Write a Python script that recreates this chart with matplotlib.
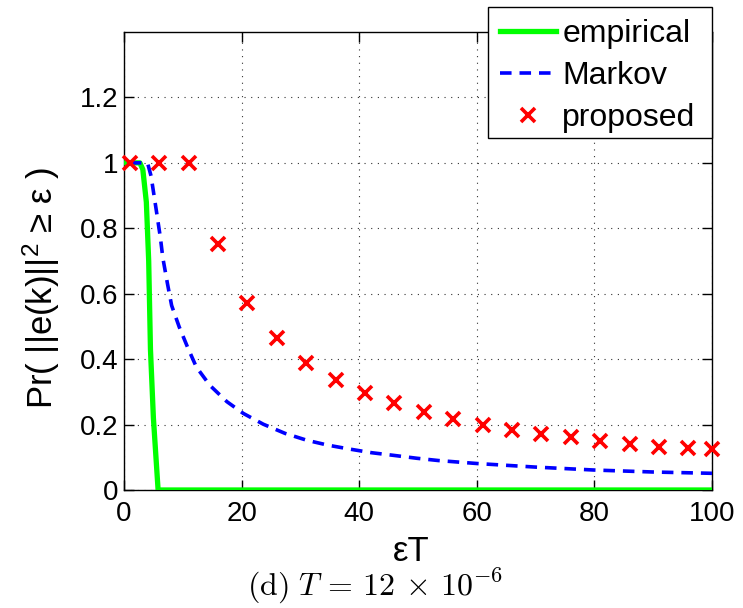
import matplotlib
matplotlib.use("Agg")
import matplotlib.pyplot as plt
from matplotlib.patches import Rectangle

plt.rcParams["font.family"] = ["Liberation Sans", "DejaVu Sans"]
plt.rcParams["mathtext.fontset"] = "custom"
plt.rcParams["mathtext.rm"] = "Liberation Sans"
plt.rcParams["mathtext.it"] = "Liberation Sans:italic"

# empirical tail probability
emp_x = [0, 2.7, 3.2, 3.8, 4.2, 4.5, 5.0, 5.8, 100]
emp_y = [1.0, 1.0, 0.98, 0.88, 0.70, 0.43, 0.22, 0.0, 0.0]

# Markov bound
markov_x = [1, 4.0, 4.6, 5.5, 6.2, 6.6, 7.4, 8.1, 9.4, 10.8, 12.3, 14.6, 17.5,
            20.3, 23.7, 27.4, 31.1, 34.7, 38.4, 42.1, 45.8, 49.8, 53.5, 60,
            70, 80, 90, 100]
markov_y = [1.0, 1.0, 0.96, 0.854, 0.77, 0.71, 0.63, 0.564, 0.498, 0.437,
            0.376, 0.32, 0.27, 0.234, 0.201, 0.173, 0.152, 0.137, 0.125,
            0.114, 0.106, 0.097, 0.090, 0.081, 0.070, 0.061, 0.055, 0.051]

# proposed bound
prop_x = [1, 6, 11, 16, 21, 26, 31, 36, 41, 46, 51, 56, 61, 66, 71, 76, 81,
          86, 91, 96, 100]
prop_y = [1.0, 1.0, 1.0, 0.752, 0.572, 0.466, 0.388, 0.337, 0.296, 0.265,
          0.239, 0.217, 0.200, 0.183, 0.171, 0.161, 0.150, 0.141, 0.131,
          0.127, 0.124]

xticks = [0, 20, 40, 60, 80, 100]
yticks = [0, 0.2, 0.4, 0.6, 0.8, 1.0, 1.2]
ytick_labels = ["0", "0.2", "0.4", "0.6", "0.8", "1", "1.2"]

W, H = 743, 608
fig = plt.figure(figsize=(W / 100, H / 100), dpi=100)
ax = fig.add_axes([124 / W, 1 - 490 / H, 588 / W, 458 / H])

ax.plot(emp_x, emp_y, color="#00FF00", lw=3.8, label="empirical",
        solid_joinstyle="round", zorder=3)
ax.plot(markov_x, markov_y, color="#0000FF", lw=2.6, ls=(0, (3.2, 2.2)),
        label="Markov", zorder=4)
ax.plot(prop_x, prop_y, ls="none", marker="x", ms=10, mew=2.6,
        color="#FF0000", label="proposed", zorder=5, clip_on=False)

ax.set_xlim(0, 100)
ax.set_ylim(0, 1.4)
ax.set_xticks(xticks)
ax.set_xticklabels([str(t) for t in xticks])
ax.set_yticks(yticks)
ax.set_yticklabels(ytick_labels)
ax.tick_params(direction="in", length=7, width=1, labelsize=20,
               top=True, right=True)
ax.tick_params(axis="x", pad=8)
ax.tick_params(axis="y", pad=4)
ax.grid(True, ls=(0, (1, 5)), color="#333333", lw=0.8)
for s in ax.spines.values():
    s.set_linewidth(1.0)

ax.set_xlabel("εT", fontsize=25)
ax.xaxis.set_label_coords(0.488, -0.098)
ax.set_ylabel(r"Pr( ||e(k)||$^2$ ≥ ε )", fontsize=25)
ax.yaxis.set_label_coords(-0.106, 0.441)

# legend box drawn separately so its size follows the frame of the figure
frame = Rectangle((488 / W, 1 - 138 / H), 224 / W, 131 / H,
                  transform=fig.transFigure, facecolor="white",
                  edgecolor="black", lw=1.0, zorder=6, clip_on=False)
ax.add_artist(frame)
leg = ax.legend(loc="upper left", bbox_to_anchor=(500 / W, 1 - 19 / H),
                bbox_transform=fig.transFigure, fontsize=23, frameon=False,
                handlelength=1.75, handletextpad=0.2, labelspacing=0.38,
                borderpad=0, borderaxespad=0)
leg.set_zorder(7)

fig.text(0.505, 1 - 586 / H,
         r"$\mathrm{(d)}\ T \,=\, 12 \,\times\, 10^{-6}$",
         math_fontfamily="cm", fontsize=23, ha="center", va="center")

fig.savefig("out.png", dpi=100)
